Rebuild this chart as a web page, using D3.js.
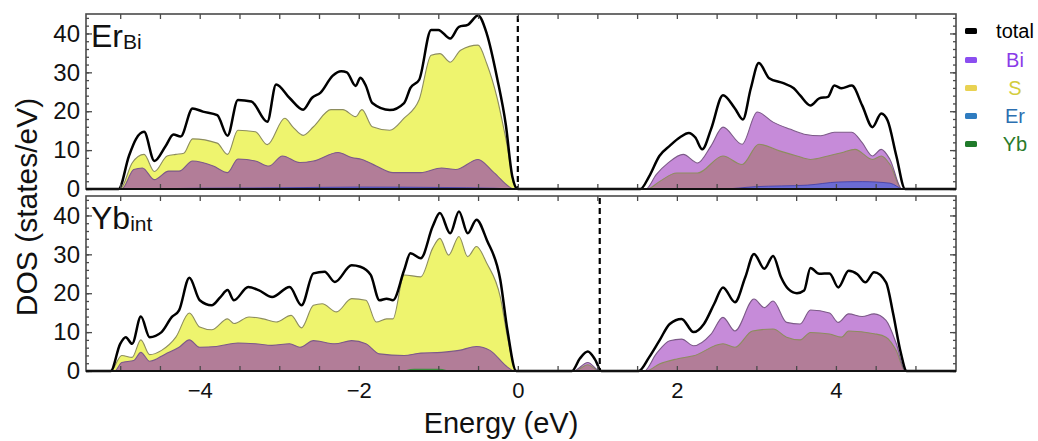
<!DOCTYPE html>
<html><head><meta charset="utf-8">
<script src="https://cdn.jsdelivr.net/npm/d3@7"></script>
<style>body{margin:0;background:#fff;} text{font-family:"Liberation Sans",Arial,Helvetica,sans-serif;}</style>
</head><body>
<script>
// ---------- DATA (energy eV, DOS states/eV) ----------
const panelNames = ["Er", "Yb"];
const panelSubs = ["Bi", "int"];
const fermiLevels = [0, 1.03];
const yTickValues = [0, 10, 20, 30, 40];
const xTickValues = [-4, -2, 0, 2, 4];
const legendLabels = ["total", "Bi", "S", "Er", "Yb"];

// Panel 1: Er_Bi
const erBiTotal = [[-5.43,0],[-5.02,0],[-4.89,8.5],[-4.80,12.9],[-4.70,14.7],[-4.57,7.2],[-4.43,11],[-4.33,14],[-4.24,13.5],[-4.09,20.7],[-3.96,19.9],[-3.78,19],[-3.65,13.7],[-3.52,22.9],[-3.35,22.5],[-3.15,17.3],[-3.04,26.9],[-2.87,23.4],[-2.70,20.4],[-2.59,23.4],[-2.48,24.8],[-2.33,29.1],[-2.22,30.3],[-2.15,30],[-2.04,26.5],[-1.98,28.6],[-1.91,26.5],[-1.83,22.1],[-1.61,20.3],[-1.43,22.1],[-1.35,26],[-1.24,28.1],[-1.09,40.9],[-1.00,40.9],[-0.85,38.7],[-0.74,41.7],[-0.63,42.2],[-0.50,44.6],[-0.39,39.9],[-0.26,28.5],[-0.15,16.4],[-0.07,3.3],[0,0],[1.54,0],[1.65,3.2],[1.78,8.5],[1.91,11.1],[2.04,13.3],[2.15,14.4],[2.23,13.3],[2.32,10.2],[2.43,15.4],[2.58,24.1],[2.73,20.7],[2.83,17.9],[2.93,25.9],[3.03,32.4],[3.16,28.5],[3.34,27.2],[3.47,25.9],[3.55,24.1],[3.68,21.5],[3.79,23.3],[3.90,23.7],[3.98,26.6],[4.07,25.9],[4.20,26.6],[4.33,21.5],[4.46,15.9],[4.57,19.4],[4.65,17.6],[4.76,8.5],[4.87,0],[5.51,0]];
const erBiS = [[-5.43,0],[-5.00,0],[-4.85,6.7],[-4.70,8.9],[-4.57,4.5],[-4.41,8.5],[-4.30,8.9],[-4.20,9.2],[-4.09,12.9],[-3.78,11.8],[-3.65,8.9],[-3.52,15.1],[-3.30,14.7],[-3.15,11.4],[-2.93,18.2],[-2.83,16],[-2.70,13.8],[-2.57,16],[-2.35,20.4],[-2.20,20.4],[-2.04,18.6],[-1.96,20.4],[-1.83,16],[-1.61,15.1],[-1.43,18.2],[-1.24,23],[-1.09,34.4],[-0.98,34.8],[-0.85,32.6],[-0.72,35.7],[-0.50,37],[-0.39,32.2],[-0.26,23.4],[-0.15,12.9],[-0.02,0],[1.63,0],[1.78,1.9],[2.00,4.1],[2.26,4.1],[2.58,8.5],[2.82,6.3],[3.03,11.5],[3.29,9.8],[3.51,8.5],[3.68,7.6],[3.90,8.5],[4.07,9.3],[4.24,10.2],[4.46,7.6],[4.57,8.5],[4.68,6.3],[4.83,0],[5.51,0]];
const erBiBi = [[-5.43,0],[-4.98,0],[-4.83,5],[-4.72,5.4],[-4.57,2.4],[-4.39,4.6],[-4.26,4.6],[-4.09,7.2],[-3.83,5.9],[-3.65,4.2],[-3.52,7.7],[-3.30,7.2],[-3.13,5.9],[-2.96,8.5],[-2.74,6.8],[-2.57,7.2],[-2.26,9.4],[-2.09,8.1],[-1.96,7.6],[-1.78,5.9],[-1.57,4.2],[-1.22,4.2],[-0.96,5.4],[-0.78,5],[-0.50,7.6],[-0.30,4.2],[-0.04,0],[1.61,0],[1.74,3.7],[1.89,6.7],[2.08,8.9],[2.26,6.7],[2.43,11.1],[2.58,15.9],[2.82,11.5],[3.01,19.8],[3.21,17.2],[3.42,15.4],[3.60,14.1],[3.81,13.7],[3.98,14.6],[4.20,14.6],[4.33,11.9],[4.46,8.5],[4.57,10.2],[4.68,7.6],[4.83,0],[5.51,0]];
const erBiEr = [[-5.43,0],[-4.9,0],[-4.0,0.2],[-3.0,0.3],[-2.0,0.5],[-1.0,0.4],[-0.3,0.2],[0,0],[2.56,0],[2.99,0.6],[3.64,1.0],[4.03,1.8],[4.33,1.9],[4.68,1.5],[4.85,0],[5.51,0]];
const erBiYb = [[-5.43,0],[5.51,0]];

// Panel 2: Yb_int
const ybIntTotal = [[-5.43,0],[-5.12,0],[-5.00,7],[-4.93,8.7],[-4.85,7],[-4.74,14],[-4.63,8.7],[-4.48,10],[-4.35,13.9],[-4.26,15.6],[-4.13,24],[-4.00,18.2],[-3.85,16.9],[-3.74,19],[-3.65,20.8],[-3.57,18.2],[-3.39,21.6],[-3.26,20.8],[-3.09,19],[-2.87,21.6],[-2.72,16.9],[-2.57,25.1],[-2.43,25.5],[-2.30,22.9],[-2.09,27.2],[-1.98,26.8],[-1.85,24.7],[-1.74,18.2],[-1.65,18.6],[-1.57,18.2],[-1.43,25.9],[-1.35,30.3],[-1.22,29],[-1.07,37.2],[-0.98,40.6],[-0.85,35.4],[-0.74,41],[-0.63,35.4],[-0.52,38.9],[-0.39,33.7],[-0.22,23.4],[-0.13,10.4],[-0.02,0],[0.68,0],[0.78,3.2],[0.88,5.0],[0.97,3.0],[1.05,0],[1.52,0],[1.65,3.5],[1.78,7.8],[1.91,12.1],[2.06,13.4],[2.21,10],[2.34,12.1],[2.47,17.3],[2.58,21.5],[2.73,17.7],[2.86,24.1],[2.97,30.1],[3.10,26.3],[3.21,29.6],[3.31,24.1],[3.40,21.1],[3.51,20],[3.60,20.7],[3.68,26.5],[3.79,25],[3.92,25.1],[4.03,21.5],[4.16,25.8],[4.27,24.9],[4.37,22.8],[4.48,25.4],[4.63,22.8],[4.72,14.7],[4.81,5.2],[4.89,0],[5.51,0]];
const ybIntS = [[-5.43,0],[-5.12,0],[-4.98,4],[-4.85,3.5],[-4.74,8],[-4.63,4.2],[-4.48,5.3],[-4.30,8.7],[-4.13,14.9],[-4.00,11.3],[-3.85,10.6],[-3.65,13.4],[-3.57,12.2],[-3.38,13.9],[-3.20,13.4],[-3.04,12.6],[-2.85,14.3],[-2.72,11.1],[-2.57,16.9],[-2.46,17.3],[-2.28,15.2],[-2.09,18.6],[-1.91,18.2],[-1.78,12.6],[-1.65,13.4],[-1.57,13.4],[-1.43,24.7],[-1.22,24.2],[-1.07,31.6],[-0.98,34.1],[-0.87,29.8],[-0.74,34.6],[-0.63,29.4],[-0.52,32],[-0.39,27.7],[-0.22,19],[-0.13,8.7],[-0.02,0],[0.72,0],[0.88,1.6],[1.02,0],[1.61,0],[1.78,1.8],[2.00,3.1],[2.21,3.9],[2.58,7],[2.73,6.1],[2.95,10.3],[3.21,10.8],[3.38,8.7],[3.55,8],[3.68,9.9],[3.92,9.5],[4.07,8.7],[4.16,10.3],[4.48,9.6],[4.63,8.7],[4.76,5.2],[4.87,0],[5.51,0]];
const ybIntBi = [[-5.43,0],[-5.07,0],[-4.98,2.2],[-4.83,2.7],[-4.74,4.8],[-4.63,2.5],[-4.43,4.4],[-4.26,6.1],[-4.13,8],[-4.00,6.1],[-3.79,6.3],[-3.52,7.2],[-3.30,7],[-3.09,6.6],[-2.87,7],[-2.74,6.1],[-2.57,7.8],[-2.30,7],[-2.09,7.8],[-1.91,7],[-1.74,4.4],[-1.43,4],[-1.22,4.6],[-0.96,4.8],[-0.74,5.3],[-0.52,6.3],[-0.35,5.3],[-0.13,1],[-0.04,0],[0.70,0],[0.88,2.2],[1.03,0],[1.59,0],[1.74,4.4],[1.91,7.8],[2.06,8.2],[2.21,6.5],[2.43,9.5],[2.58,13.8],[2.73,10.3],[2.97,18.5],[3.10,16.3],[3.21,18],[3.38,12.5],[3.55,12.1],[3.68,15.7],[3.92,14.9],[4.03,12.5],[4.16,14.7],[4.33,14],[4.48,14.7],[4.63,13],[4.76,7],[4.87,0],[5.51,0]];
const ybIntEr = [[-5.43,0],[5.51,0]];
const ybIntYb = [[-5.43,0],[-1.5,0],[-1.3,0.6],[-1.0,0.6],[-0.8,0],[5.51,0]];

// ---------- LAYOUT / STYLE ----------
const W = 1038, H = 441;
const xLeft = 86, xRight = 956;
const panelBoxes = [{top:14,bottom:189},{top:196,bottom:371}];
const panelData = [
  {total:erBiTotal, s:erBiS, bi:erBiBi, er:erBiEr, yb:erBiYb},
  {total:ybIntTotal, s:ybIntS, bi:ybIntBi, er:ybIntEr, yb:ybIntYb}
];
const col = {s:"#eef46e", bi:"#c68bd9", both:"#b27d98", er:"#6b6bd4", yb:"#3f8f3f",
             sLine:"#8d8d5e", biLine:"#7c5a88", erLine:"#3c3ca8", ybLine:"#2a6a2a"};
const legendSwatch = ["#000000","#8b4ef0","#e9d252","#2f7cc0","#1f7a2a"];
const legendText = ["#000000","#8a3be8","#d4cd3c","#2c6fb0","#2a7a2a"];

const svg = d3.select("body").append("svg").attr("width",W).attr("height",H);
const defs = svg.append("defs");
const x = d3.scaleLinear().domain([-5.43,5.51]).range([xLeft,xRight]);

panelBoxes.forEach((box,i)=>{
  const y = d3.scaleLinear().domain([0,45]).range([box.bottom, box.top]);
  const d = panelData[i];
  const area = d3.area().x(p=>x(p[0])).y0(y(0)).y1(p=>y(p[1])).curve(d3.curveMonotoneX);
  const line = d3.line().x(p=>x(p[0])).y(p=>y(p[1])).curve(d3.curveMonotoneX);

  defs.append("clipPath").attr("id","pc"+i).append("rect")
    .attr("x",xLeft).attr("y",box.top).attr("width",xRight-xLeft).attr("height",box.bottom-box.top+2);
  defs.append("clipPath").attr("id","sc"+i).append("path").attr("d",area(d.s));

  const g = svg.append("g").attr("clip-path","url(#pc"+i+")");
  g.append("path").attr("d",area(d.s)).attr("fill",col.s);
  g.append("path").attr("d",area(d.bi)).attr("fill",col.bi);
  g.append("path").attr("d",area(d.bi)).attr("fill",col.both).attr("clip-path","url(#sc"+i+")");
  g.append("path").attr("d",area(d.er)).attr("fill",col.er);
  g.append("path").attr("d",area(d.yb)).attr("fill",col.yb);
  g.append("path").attr("d",line(d.s)).attr("fill","none").attr("stroke",col.sLine).attr("stroke-width",1.1);
  g.append("path").attr("d",line(d.bi)).attr("fill","none").attr("stroke",col.biLine).attr("stroke-width",1.1);
  g.append("path").attr("d",line(d.er)).attr("fill","none").attr("stroke",col.erLine).attr("stroke-width",0.8);

  // frame
  svg.append("rect").attr("x",xLeft).attr("y",box.top).attr("width",xRight-xLeft).attr("height",box.bottom-box.top)
    .attr("fill","none").attr("stroke","#4a4a4a").attr("stroke-width",1.6);

  // fermi level
  svg.append("line").attr("x1",x(fermiLevels[i])).attr("x2",x(fermiLevels[i]))
    .attr("y1",box.top+2).attr("y2",box.bottom).attr("stroke","#000").attr("stroke-width",2.2)
    .attr("stroke-dasharray","6,4");

  // total line
  g.append("path").attr("d",line(d.total)).attr("fill","none").attr("stroke","#000")
    .attr("stroke-width",2.5).attr("stroke-linejoin","round");

  // ticks via axes
  const xt = d3.range(-5,5.01,0.5);
  const tickStyle = sel=>{sel.select(".domain").remove(); sel.selectAll("line").attr("stroke","#4a4a4a").attr("stroke-width",1.3);};
  svg.append("g").attr("transform",`translate(0,${box.top})`).call(d3.axisBottom(x).tickValues(xt).tickSize(5).tickFormat("")).call(tickStyle);
  svg.append("g").attr("transform",`translate(0,${box.bottom})`).call(d3.axisTop(x).tickValues(xt).tickSize(5).tickFormat("")).call(tickStyle);
  const yMinor = d3.range(0,45,2);
  svg.append("g").attr("transform",`translate(${xLeft},0)`).call(d3.axisRight(y).tickValues(yMinor).tickSize(3).tickFormat("")).call(tickStyle);
  svg.append("g").attr("transform",`translate(${xLeft},0)`).call(d3.axisRight(y).tickValues(yTickValues).tickSize(6).tickFormat("")).call(tickStyle);
  svg.append("g").attr("transform",`translate(${xRight},0)`).call(d3.axisLeft(y).tickValues(yMinor).tickSize(3).tickFormat("")).call(tickStyle);
  svg.append("g").attr("transform",`translate(${xRight},0)`).call(d3.axisLeft(y).tickValues(yTickValues).tickSize(6).tickFormat("")).call(tickStyle);

  // zero baseline
  svg.append("line").attr("x1",xLeft).attr("x2",xRight).attr("y1",y(0)).attr("y2",y(0)).attr("stroke","#111").attr("stroke-width",2);

  // y tick labels
  const ya = svg.append("g").attr("transform",`translate(${xLeft},0)`)
    .call(d3.axisLeft(y).tickValues(yTickValues).tickSize(0).tickPadding(6));
  ya.select(".domain").remove();
  ya.selectAll("text").attr("font-size",24).attr("font-family","Liberation Sans, Arial, sans-serif").attr("fill","#111");

  // panel label
  const t = svg.append("text").attr("x",91).attr("y",box.top+33).attr("font-size",32).attr("fill","#111");
  t.append("tspan").text(panelNames[i]);
  t.append("tspan").attr("font-size",21).attr("dy",2).text(panelSubs[i]);

  if(i===1){
    const xa = svg.append("g").attr("transform",`translate(0,${box.bottom})`)
      .call(d3.axisBottom(x).tickValues(xTickValues).tickSize(0).tickPadding(11));
    xa.select(".domain").remove();
    xa.selectAll("text").attr("font-size",22).attr("font-family","Liberation Sans, Arial, sans-serif").attr("fill","#111");
  }
});

// axis titles
svg.append("text").attr("x",501).attr("y",433).attr("text-anchor","middle").attr("font-size",29).attr("fill","#111").text("Energy (eV)");
svg.append("text").attr("transform","translate(37,207) rotate(-90)").attr("text-anchor","middle").attr("font-size",30).attr("fill","#111").text("DOS (states/eV)");

// legend
const legY = [31,60,88,116,144];
legendLabels.forEach((lab,k)=>{
  svg.append("rect").attr("x",965).attr("y",legY[k]-3).attr("width",12).attr("height",6).attr("rx",1.5).attr("fill",legendSwatch[k]);
  svg.append("text").attr("x",1015).attr("y",legY[k]).attr("dominant-baseline","central").attr("text-anchor","middle")
    .attr("font-size",20).attr("fill",legendText[k]).text(lab);
});
</script>
</body></html>
